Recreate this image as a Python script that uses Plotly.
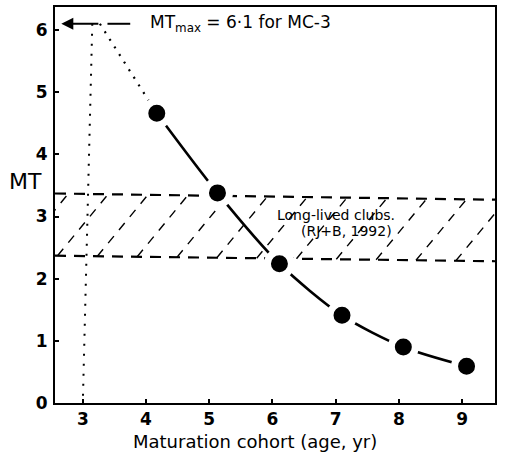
import numpy as np
import plotly.graph_objects as go

# Maturation cohorts and their mean MT values
ages = [4.17, 5.13, 6.11, 7.1, 8.07, 9.07]
mt = [4.66, 3.38, 2.24, 1.41, 0.9, 0.59]

# MT maximum for cohort MC-3
MT_MAX = 6.1
mc3_x = [3.15, 3.0]
mc3_y = [MT_MAX, 0.0]
mc3_peak_x = 3.27

# Long-lived clubs band (RJ+B, 1992)
band_x = [2.56, 9.52]
band_top = [3.37, 3.27]
band_bot = [2.37, 2.28]

x_ticks = [3, 4, 5, 6, 7, 8, 9]
y_ticks = [0, 1, 2, 3, 4, 5, 6]

FONT = "DejaVu Sans"
INK = "black"

fig = go.Figure()


def lerp(xs, ys, x):
    return float(np.interp(x, xs, ys))


# Hatching inside the band
hx, hy = [], []
slant = 0.8
for xb in np.arange(3.23 - 0.63 * 2, 9.6, 0.63):
    xt = xb + slant
    hx += [xb, xt, None]
    hy += [lerp(band_x, band_bot, xb), lerp(band_x, band_top, xt), None]
fig.add_trace(go.Scatter(x=hx, y=hy, mode="lines",
                         line=dict(color=INK, width=1.4, dash="9px,8px"),
                         hoverinfo="skip", showlegend=False))

# Band edges
for edge in (band_top, band_bot):
    fig.add_trace(go.Scatter(x=band_x, y=edge, mode="lines",
                             line=dict(color=INK, width=2.2, dash="11px,8px"),
                             hoverinfo="skip", showlegend=False))

# MC-3 vertical marker and its drop to the first cohort
fig.add_trace(go.Scatter(x=mc3_x, y=mc3_y, mode="lines",
                         line=dict(color=INK, width=2, dash="2px,8px"),
                         hoverinfo="skip", showlegend=False))
fig.add_trace(go.Scatter(x=[mc3_peak_x, ages[0]], y=[MT_MAX, mt[0]], mode="lines",
                         line=dict(color=INK, width=2.2, dash="2px,7px"),
                         hoverinfo="skip", showlegend=False))

# Decline curve through cohorts
fig.add_trace(go.Scatter(x=ages, y=mt, mode="lines",
                         line=dict(color=INK, width=2.6, shape="spline", smoothing=0.8),
                         hoverinfo="skip", showlegend=False))
fig.add_trace(go.Scatter(x=ages, y=mt, mode="markers",
                         marker=dict(color=INK, size=24, line=dict(color="white", width=7)),
                         showlegend=False))

# MT max arrow and label
fig.add_annotation(x=2.66, y=MT_MAX, ax=mc3_peak_x, ay=MT_MAX, xref="x", yref="y",
                   axref="x", ayref="y", text="", showarrow=True,
                   arrowhead=2, arrowsize=1.2, arrowwidth=2, arrowcolor=INK)
fig.add_shape(type="line", x0=3.39, x1=3.75, y0=MT_MAX, y1=MT_MAX,
              line=dict(color=INK, width=2))
fig.add_annotation(x=4.03, y=MT_MAX, xref="x", yref="y", xanchor="left", yanchor="middle",
                   text="MT<sub>max</sub> = 6·1 for MC-3", showarrow=False,
                   font=dict(family=FONT, size=17, color=INK))

# Band label
fig.add_annotation(x=6.04, y=3.03, xref="x", yref="y", xanchor="left", yanchor="middle",
                   text="Long-lived clubs.", showarrow=False,
                   font=dict(family=FONT, size=14, color=INK))
fig.add_annotation(x=6.42, y=2.76, xref="x", yref="y", xanchor="left", yanchor="middle",
                   text="(RJ+B, 1992)", showarrow=False,
                   font=dict(family=FONT, size=14, color=INK))

# Axis titles
fig.add_annotation(x=-0.068, y=0.56, xref="paper", yref="paper", xanchor="center",
                   yanchor="middle", text="MT", showarrow=False,
                   font=dict(family=FONT, size=22, color=INK))
fig.add_annotation(x=0.455, y=-0.097, xref="paper", yref="paper", xanchor="center",
                   yanchor="middle", text="Maturation cohort (age, yr)", showarrow=False,
                   font=dict(family=FONT, size=18, color=INK))

tickfont = dict(family=FONT, size=17, color=INK, weight="bold")
fig.update_layout(
    width=507, height=456,
    margin=dict(l=55, r=12, t=5, b=53),
    paper_bgcolor="white", plot_bgcolor="white",
    xaxis=dict(range=[2.56, 9.52], tickvals=x_ticks, ticktext=[str(v) for v in x_ticks],
               ticks="inside", ticklen=4, tickcolor=INK, tickwidth=1.5,
               showline=True, linecolor=INK, linewidth=2, mirror=True,
               showgrid=False, zeroline=False, tickfont=tickfont, ticklabelstandoff=0),
    yaxis=dict(range=[0, 6.37], tickvals=y_ticks, ticktext=[str(v) for v in y_ticks],
               ticks="inside", ticklen=4, tickcolor=INK, tickwidth=1.5,
               showline=True, linecolor=INK, linewidth=2, mirror=True,
               showgrid=False, zeroline=False, tickfont=tickfont, ticklabelstandoff=2),
)

fig.write_html("out.html")
